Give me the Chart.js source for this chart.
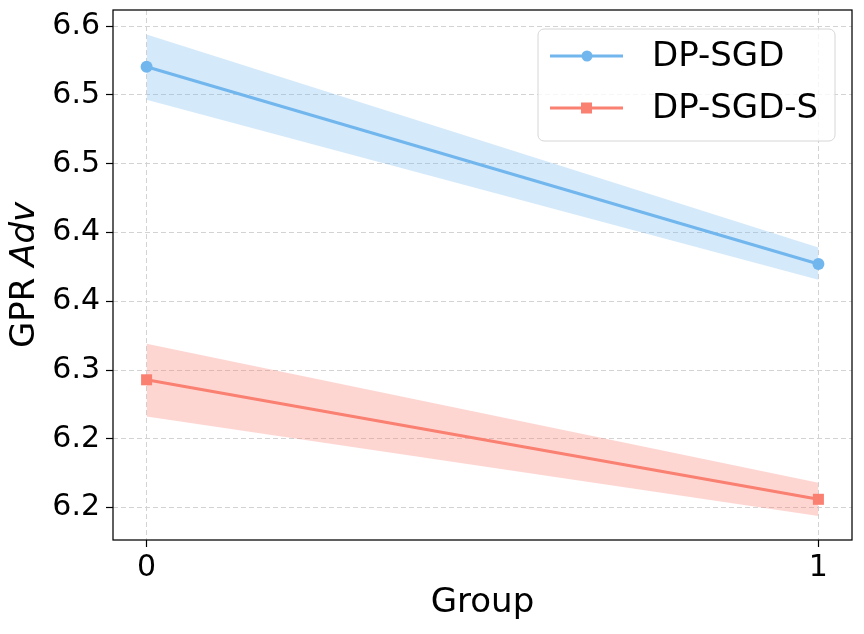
<!DOCTYPE html>
<html>
<head>
<meta charset="utf-8">
<script src="https://cdn.jsdelivr.net/npm/chart.js@4/dist/chart.umd.min.js"></script>
<style>
html,body{margin:0;padding:0;background:#fff;}
#wrap{width:864px;height:634px;}
</style>
</head>
<body>
<div id="wrap"><canvas id="c" width="864" height="634"></canvas></div>
<script>
// ---- data ----
const groups = [0, 1];
const sgdMean = [6.5205, 6.3771];
const sgdUpper = [6.5440, 6.3891];
const sgdLower = [6.4966, 6.3656];
const sgdsMean = [6.2929, 6.2060];
const sgdsUpper = [6.3191, 6.2181];
const sgdsLower = [6.2662, 6.1939];
const yTickValues = [6.20, 6.25, 6.30, 6.35, 6.40, 6.45, 6.50, 6.55];
const yTickLabels = ['6.2', '6.2', '6.3', '6.4', '6.4', '6.5', '6.5', '6.6'];
const xTickValues = [0, 1];
const seriesNames = ['DP-SGD', 'DP-SGD-S'];

const BLUE = 'rgb(114,182,238)';
const BLUE_FILL = 'rgba(114,182,238,0.3)';
const RED = 'rgb(250,128,114)';
const RED_FILL = 'rgba(250,128,114,0.32)';
const FONT = "'DejaVu Sans', sans-serif";
const LABEL_SIZE = 34;
const TICK_SIZE = 30;

const pts = (ys) => groups.map((g, i) => ({x: g, y: ys[i]}));

const framePlugin = {
  id: 'frame',
  afterDraw(chart) {
    const {ctx, chartArea: a} = chart;
    ctx.save();
    // box
    ctx.strokeStyle = '#000';
    ctx.lineWidth = 1.25;
    ctx.strokeRect(a.left, a.top, a.right - a.left, a.bottom - a.top);
    // legend
    const bx = 538, by = 29, bw = 297, bh = 112, r = 6;
    ctx.beginPath();
    ctx.moveTo(bx + r, by);
    ctx.arcTo(bx + bw, by, bx + bw, by + bh, r);
    ctx.arcTo(bx + bw, by + bh, bx, by + bh, r);
    ctx.arcTo(bx, by + bh, bx, by, r);
    ctx.arcTo(bx, by, bx + bw, by, r);
    ctx.closePath();
    ctx.fillStyle = 'rgba(255,255,255,0.8)';
    ctx.fill();
    ctx.strokeStyle = '#d6d6d6';
    ctx.lineWidth = 1;
    ctx.stroke();
    const rows = [
      {y: 56, color: BLUE, style: 'circle', text: seriesNames[0]},
      {y: 108, color: RED, style: 'rect', text: seriesNames[1]}
    ];
    rows.forEach(rw => {
      ctx.strokeStyle = rw.color;
      ctx.lineWidth = 3;
      ctx.beginPath();
      ctx.moveTo(550, rw.y);
      ctx.lineTo(623, rw.y);
      ctx.stroke();
      ctx.fillStyle = rw.color;
      if (rw.style === 'circle') {
        ctx.beginPath();
        ctx.arc(587, rw.y, 5.5, 0, Math.PI * 2);
        ctx.fill();
      } else {
        ctx.fillRect(581, rw.y - 5.5, 11, 11);
      }
      ctx.fillStyle = '#000';
      ctx.font = LABEL_SIZE + 'px ' + FONT;
      ctx.textBaseline = 'middle';
      ctx.textAlign = 'left';
      ctx.fillText(rw.text, 652, rw.y + 1);
    });
    // y title: GPR Adv (Adv italic)
    ctx.translate(25, (a.top + a.bottom) / 2);
    ctx.rotate(-Math.PI / 2);
    ctx.fillStyle = '#000';
    ctx.textBaseline = 'middle';
    const t1 = 'GPR ';
    ctx.font = LABEL_SIZE + 'px ' + FONT;
    const w1 = ctx.measureText(t1).width;
    ctx.font = 'italic ' + LABEL_SIZE + 'px ' + FONT;
    const w2 = ctx.measureText('Adv').width;
    const start = -(w1 + w2) / 2;
    ctx.textAlign = 'left';
    ctx.font = LABEL_SIZE + 'px ' + FONT;
    ctx.fillText(t1, start, 0);
    ctx.font = 'italic ' + LABEL_SIZE + 'px ' + FONT;
    ctx.fillText('Adv', start + w1, 0);
    ctx.restore();
  }
};

const gridOpts = {color: '#d3d3d3', lineWidth: 1, tickColor: '#000', tickLength: 7, tickBorderDash: [], tickWidth: 1.2};

new Chart(document.getElementById('c'), {
  type: 'line',
  data: {
    datasets: [
      {label: 'sgd_up', data: pts(sgdUpper), borderWidth: 0, pointRadius: 0, fill: false, borderColor: 'rgba(0,0,0,0)', order: 5},
      {label: 'sgd_lo', data: pts(sgdLower), borderWidth: 0, pointRadius: 0, fill: '-1', backgroundColor: BLUE_FILL, borderColor: 'rgba(0,0,0,0)', order: 5},
      {label: 'sgds_up', data: pts(sgdsUpper), borderWidth: 0, pointRadius: 0, fill: false, borderColor: 'rgba(0,0,0,0)', order: 5},
      {label: 'sgds_lo', data: pts(sgdsLower), borderWidth: 0, pointRadius: 0, fill: '-1', backgroundColor: RED_FILL, borderColor: 'rgba(0,0,0,0)', order: 5},
      {label: seriesNames[0], data: pts(sgdMean), borderColor: BLUE, backgroundColor: BLUE, borderWidth: 3, pointRadius: 6, pointStyle: 'circle', pointBorderWidth: 0, fill: false, order: 1},
      {label: seriesNames[1], data: pts(sgdsMean), borderColor: RED, backgroundColor: RED, borderWidth: 3, pointRadius: 7.8, pointStyle: 'rect', pointBorderWidth: 0, fill: false, order: 1}
    ]
  },
  options: {
    responsive: false,
    animation: false,
    devicePixelRatio: 1,
    layout: {padding: {top: 10, right: 12, left: 0, bottom: 0}},
    plugins: {legend: {display: false}, tooltip: {enabled: false}},
    scales: {
      x: {
        type: 'linear', min: -0.05, max: 1.05,
        afterBuildTicks: (s) => { s.ticks = xTickValues.map(v => ({value: v})); },
        afterFit: (s) => { s.height = 94; s.paddingLeft = 0; s.paddingRight = 0; },
        ticks: {color: '#000', font: {family: FONT, size: TICK_SIZE}, padding: 3, callback: (v) => String(v)},
        grid: gridOpts,
        border: {display: false, dash: [5, 3]},
        title: {display: true, text: 'Group', color: '#000', font: {family: FONT, size: LABEL_SIZE}, padding: {top: 0, bottom: 10}}
      },
      y: {
        type: 'linear', min: 6.1764, max: 6.5618,
        afterBuildTicks: (s) => { s.ticks = yTickValues.map(v => ({value: v})); },
        afterFit: (s) => { s.width = 113; s.paddingTop = 0; s.paddingBottom = 0; },
        ticks: {color: '#000', font: {family: FONT, size: TICK_SIZE}, padding: 6, callback: (v, i) => yTickLabels[i]},
        grid: gridOpts,
        border: {display: false, dash: [5, 3]}
      }
    }
  },
  plugins: [framePlugin]
});
</script>
</body>
</html>
